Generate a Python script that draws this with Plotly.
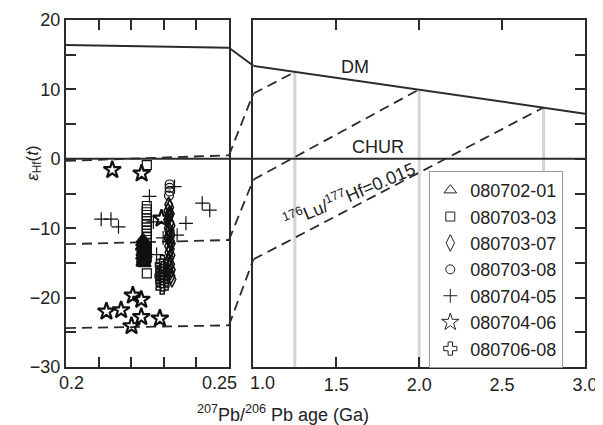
import plotly.graph_objects as go

# ---- values ----
# depleted mantle curve
dm_age = [0.2, 0.25, 1.0, 3.0]
dm_eps = [16.4, 16.0, 13.4, 6.5]

# crustal evolution lines (176Lu/177Hf = 0.015) ending on DM at the model age
model_age = [1.25, 2.0, 2.75]
model_eps = [12.5, 10.0, 7.4]
evo_left = [[-0.3, 0.5], [-12.3, -11.7], [-24.4, -24.0]]   # at 0.20 / 0.25 Ga
evo_1ga = [9.4, -3.0, -14.5]

# zircon samples
s0702_01_x = [0.2236, 0.2240, 0.2234, 0.2242, 0.2238, 0.2233, 0.2241, 0.2237, 0.2243, 0.2235,
              0.2239, 0.2244, 0.2234, 0.2240, 0.2237, 0.2242, 0.2236, 0.2239, 0.2235, 0.2241]
s0702_01_y = [-11.6, -11.9, -12.1, -12.3, -12.5, -12.7, -12.9, -13.1, -13.3, -13.5,
              -13.6, -13.8, -14.0, -14.1, -14.3, -14.5, -14.6, -14.8, -15.0, -15.1]
s0703_03_x = [0.2248, 0.2248, 0.2248, 0.2248, 0.2248, 0.2248, 0.2248, 0.2248, 0.2248, 0.2248,
              0.2248, 0.2248, 0.2248, 0.2248, 0.2248, 0.2248, 0.2248, 0.2248, 0.2248]
s0703_03_y = [-0.9, -6.8, -7.3, -7.7, -8.1, -8.6, -9.0, -9.5, -9.9, -10.4,
              -10.8, -11.3, -11.7, -12.2, -12.6, -13.1, -13.5, -14.0, -16.5]
s0703_07_x = [0.2315, 0.2318, 0.2313, 0.2320, 0.2316, 0.2312, 0.2319, 0.2322, 0.2314, 0.2317,
              0.2321, 0.2313, 0.2318, 0.2323, 0.2315, 0.2320, 0.2316, 0.2322, 0.2318, 0.2314,
              0.2321, 0.2317, 0.2323, 0.2319, 0.2322, 0.2325, 0.2316, 0.2320]
s0703_07_y = [-6.6, -7.0, -7.5, -7.9, -8.3, -8.8, -9.2, -9.6, -10.0, -10.4,
              -10.9, -11.3, -11.8, -12.2, -12.6, -13.0, -13.5, -13.9, -14.3, -14.8,
              -15.2, -15.6, -16.0, -16.4, -16.9, -17.4, -8.0, -12.0]
s0703_08_x = [0.2318, 0.2318, 0.2318, 0.2316, 0.2318, 0.2319, 0.2317]
s0703_08_y = [-3.7, -4.2, -4.7, -5.3, -10.4, -11.0, -11.6]
s0704_05_x = [0.2108, 0.2138, 0.2161, 0.2256, 0.2268, 0.2333, 0.2368, 0.2418, 0.2441,
              0.2341, 0.2298, 0.2278]
s0704_05_y = [-8.7, -8.7, -9.8, -5.4, -9.1, -4.0, -9.3, -6.4, -7.4, -11.0, -11.4, -13.8]
s0704_06_x = [0.2142, 0.2232, 0.2124, 0.2169, 0.2205, 0.2231, 0.2201, 0.2231, 0.2288, 0.2293]
s0704_06_y = [-1.6, -2.1, -22.0, -21.8, -19.7, -20.3, -24.1, -22.8, -23.0, -8.6]
s0706_08_x = [0.2296, 0.2293, 0.2298, 0.2294, 0.2297, 0.2292, 0.2296, 0.2294, 0.2297, 0.2295]
s0706_08_y = [-14.8, -15.3, -15.7, -16.1, -16.5, -16.9, -17.3, -17.7, -18.2, -18.6]

# name, x, y, symbol, plot size, line width, legend size
samples = [
    ("080702-01", s0702_01_x, s0702_01_y, "triangle-up-open", 11, 2.0, 11),
    ("080703-03", s0703_03_x, s0703_03_y, "square-open", 9, 1.2, 9),
    ("080703-07", s0703_07_x, s0703_07_y, "diamond-tall-open", 11, 1.5, 12),
    ("080703-08", s0703_08_x, s0703_08_y, "circle-open", 9, 1.2, 9),
    ("080704-05", s0704_05_x, s0704_05_y, "cross-thin-open", 10, 1.2, 10),
    ("080704-06", s0704_06_x, s0704_06_y, "star-open", 13, 2.2, 13),
    ("080706-08", s0706_08_x, s0706_08_y, "cross-open", 10, 1.5, 11),
]

INK = "#2b2b2b"
FONT = "Liberation Sans"
DASH = "10px,6px"

# panel domains (left panel 0.20-0.25 Ga, right panel 1-3 Ga)
left_dom = [0.0, 0.314]
right_dom = [0.361, 1.0]

fig = go.Figure()

# grey model-age markers
for t, e in zip(model_age, model_eps):
    fig.add_trace(go.Scatter(x=[t, t], y=[-30, e], mode="lines", xaxis="x2", yaxis="y2",
                             line=dict(color="#d4d4d4", width=3), showlegend=False, hoverinfo="skip"))

# DM
fig.add_trace(go.Scatter(x=dm_age[:2], y=dm_eps[:2], mode="lines",
                         line=dict(color=INK, width=2), showlegend=False))
fig.add_trace(go.Scatter(x=dm_age[2:], y=dm_eps[2:], mode="lines", xaxis="x2", yaxis="y2",
                         line=dict(color=INK, width=2), showlegend=False))

# evolution lines
for i in range(3):
    fig.add_trace(go.Scatter(x=[0.2, 0.25], y=evo_left[i], mode="lines",
                             line=dict(color=INK, width=1.8, dash=DASH), showlegend=False))
    fig.add_trace(go.Scatter(x=[1.0, model_age[i]], y=[evo_1ga[i], model_eps[i]], mode="lines",
                             xaxis="x2", yaxis="y2",
                             line=dict(color=INK, width=1.8, dash=DASH), showlegend=False))

# pieces crossing the axis break
shapes = [dict(type="line", xref="paper", yref="y", x0=0, x1=1, y0=0, y1=0,
               line=dict(color=INK, width=2)),
          dict(type="line", xref="paper", yref="y", x0=left_dom[1], x1=right_dom[0],
               y0=dm_eps[1], y1=dm_eps[2], line=dict(color=INK, width=2))]
for i in range(3):
    shapes.append(dict(type="line", xref="paper", yref="y", x0=left_dom[1], x1=right_dom[0],
                       y0=evo_left[i][1], y1=evo_1ga[i],
                       line=dict(color=INK, width=1.8, dash=DASH)))

# samples (legend uses small proxy markers like the original)
for name, xs, ys, sym, size, lw, lsize in samples:
    fig.add_trace(go.Scatter(x=xs, y=ys, mode="markers", name=name, showlegend=False,
                             marker=dict(symbol=sym, size=size, color="#111",
                                         line=dict(width=lw, color="#111"))))
for name, xs, ys, sym, size, lw, lsize in samples:
    fig.add_trace(go.Scatter(x=[None], y=[None], mode="markers", name=name,
                             marker=dict(symbol=sym, size=lsize, color="#222",
                                         line=dict(width=1, color="#222"))))

tick_common = dict(ticks="inside", ticklen=10, tickwidth=1.5, tickcolor=INK, automargin=False,
                   showline=True, linecolor=INK, linewidth=2, showgrid=False, zeroline=False)

# the page body adds an 8px margin, so the figure is 8px smaller to fit the window
fig.update_layout(
    width=595, height=417,
    margin=dict(l=58, r=18, t=12, b=58),
    plot_bgcolor="white", paper_bgcolor="white",
    font=dict(family=FONT, size=18, color="#222"),
    shapes=shapes,
    xaxis=dict(domain=left_dom, range=[0.2, 0.25], anchor="y",
               tickvals=[0.21, 0.22, 0.23, 0.24], showticklabels=False,
               mirror="ticks", **tick_common),
    yaxis=dict(range=[-30, 20], anchor="x",
               tickvals=[-30, -25, -20, -15, -10, -5, 0, 5, 10, 15, 20],
               ticktext=["\u221230", "", "\u221220", "", "\u221210", "", "0", "", "10", "", "20"],
               mirror=True, **tick_common),
    xaxis2=dict(domain=right_dom, range=[1.0, 3.0], anchor="y2",
                tickvals=[1.5, 2.0, 2.5, 3.0], ticktext=["1.5", "2.0", "2.5", "3.0"],
                mirror="ticks", **tick_common),
    yaxis2=dict(range=[-30, 20], anchor="x2", side="right",
                tickvals=[-30, -25, -20, -15, -10, -5, 0, 5, 10, 15, 20],
                showticklabels=False, mirror=True, **tick_common),
    legend=dict(x=0.70, y=0.565, xanchor="left", yanchor="top",
                bgcolor="white", bordercolor="#999", borderwidth=1,
                font=dict(family=FONT, size=18, color="#222"), itemwidth=30),
)

# x tick labels at the axis break, nudged apart
for txt, ax, xv, sh in [("0.2", "x", 0.2, 5), ("0.25", "x", 0.25, -9), ("1.0", "x2", 1.0, 9)]:
    fig.add_annotation(text=txt, xref=ax, yref="paper", x=xv, y=-0.046, xshift=sh,
                       showarrow=False, yanchor="middle", font=dict(size=18))

fig.add_annotation(text="<sup>207</sup>Pb/<sup>206</sup> Pb age (Ga)", xref="paper", yref="paper",
                   x=0.418, y=-0.133, showarrow=False, yanchor="middle", font=dict(size=18))
fig.add_annotation(text="<i>ε</i><sub>Hf</sub>(<i>t</i>)", xref="paper", yref="paper",
                   x=-0.087, y=0.588, textangle=-90, showarrow=False, font=dict(size=17))
fig.add_annotation(text="DM", xref="x2", yref="y2", x=1.61, y=13.3, showarrow=False,
                   font=dict(size=18))
fig.add_annotation(text="CHUR", xref="x2", yref="y2", x=1.75, y=1.65, showarrow=False,
                   font=dict(size=18))
fig.add_annotation(text="<sup>176</sup>Lu/<sup>177</sup>Hf=0.015", xref="x2", yref="y2",
                   x=1.58, y=-5.2, textangle=-23, showarrow=False, font=dict(size=18))

fig.write_html("out.html")
